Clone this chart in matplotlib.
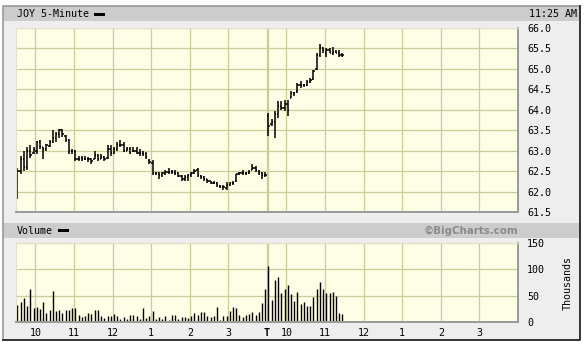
import matplotlib
matplotlib.use("Agg")
import matplotlib.pyplot as plt
from matplotlib.patches import Rectangle

# 5-minute bars, day 1 (full session, 78 bars) then day 2 (to 11:25, 24 bars)
day1_high = [62.58, 62.88, 63.00, 63.08, 63.13, 63.08, 63.23, 63.25, 63.10, 63.17,
             63.25, 63.50, 63.46, 63.54, 63.54, 63.38, 63.29, 63.04, 63.02, 62.88,
             62.88, 62.88, 62.85, 62.83, 63.00, 62.93, 62.92, 62.88, 63.13, 63.13,
             63.08, 63.21, 63.25, 63.21, 63.10, 63.08, 63.08, 63.10, 63.04, 63.00,
             62.96, 62.80, 62.76, 62.49, 62.48, 62.49, 62.52, 62.57, 62.52, 62.52,
             62.49, 62.40, 62.40, 62.44, 62.48, 62.56, 62.57, 62.40, 62.37, 62.31,
             62.27, 62.27, 62.23, 62.15, 62.15, 62.23, 62.23, 62.27, 62.44, 62.49,
             62.52, 62.49, 62.52, 62.68, 62.62, 62.52, 62.48, 62.49]
day1_low = [61.83, 62.42, 62.50, 62.52, 62.83, 62.92, 62.92, 63.04, 62.79, 63.00,
            63.08, 63.18, 63.21, 63.32, 63.33, 63.21, 62.92, 62.93, 62.75, 62.75,
            62.75, 62.77, 62.73, 62.67, 62.79, 62.75, 62.79, 62.75, 62.79, 62.88,
            62.92, 63.00, 63.08, 62.96, 63.00, 62.92, 62.96, 62.92, 62.88, 62.88,
            62.80, 62.68, 62.40, 62.40, 62.31, 62.35, 62.40, 62.44, 62.44, 62.40,
            62.35, 62.25, 62.27, 62.27, 62.35, 62.44, 62.35, 62.31, 62.25, 62.21,
            62.19, 62.19, 62.11, 62.09, 62.03, 62.03, 62.14, 62.15, 62.23, 62.40,
            62.40, 62.40, 62.44, 62.52, 62.48, 62.40, 62.31, 62.35]
day1_open = [62.55, 62.50, 62.80, 62.60, 63.00, 62.95, 63.00, 63.20, 63.10, 63.05,
             63.12, 63.22, 63.30, 63.40, 63.50, 63.35, 63.25, 63.00, 62.98, 62.80,
             62.82, 62.80, 62.80, 62.80, 62.80, 62.90, 62.80, 62.85, 62.82, 63.05,
             62.95, 63.05, 63.15, 63.15, 63.00, 63.05, 62.98, 63.00, 62.95, 62.95,
             62.92, 62.78, 62.70, 62.45, 62.45, 62.40, 62.45, 62.48, 62.48, 62.48,
             62.45, 62.38, 62.30, 62.35, 62.40, 62.45, 62.52, 62.38, 62.35, 62.30,
             62.25, 62.22, 62.20, 62.14, 62.12, 62.08, 62.16, 62.20, 62.25, 62.42,
             62.45, 62.45, 62.46, 62.52, 62.58, 62.50, 62.45, 62.40]
day1_close = [62.50, 62.80, 62.60, 63.00, 62.90, 63.05, 63.20, 63.10, 63.05, 63.15,
              63.20, 63.30, 63.40, 63.50, 63.40, 63.25, 63.00, 63.00, 62.80, 62.80,
              62.80, 62.80, 62.80, 62.75, 62.90, 62.80, 62.85, 62.80, 63.05, 62.95,
              63.05, 63.15, 63.15, 63.00, 63.05, 62.95, 63.00, 62.95, 62.95, 62.92,
              62.85, 62.72, 62.45, 62.45, 62.40, 62.45, 62.48, 62.48, 62.48, 62.45,
              62.38, 62.30, 62.35, 62.40, 62.45, 62.50, 62.40, 62.35, 62.30, 62.25,
              62.22, 62.22, 62.15, 62.12, 62.10, 62.15, 62.20, 62.22, 62.42, 62.45,
              62.45, 62.45, 62.48, 62.58, 62.52, 62.45, 62.40, 62.40]

day2_high = [63.93, 63.77, 63.97, 64.21, 64.21, 64.25, 64.25, 64.45, 64.44, 64.65,
             64.71, 64.63, 64.73, 64.77, 64.98, 65.38, 65.62, 65.54, 65.50, 65.50,
             65.54, 65.46, 65.46, 65.38]
day2_low = [63.36, 63.60, 63.32, 63.81, 64.00, 63.97, 63.85, 64.29, 64.33, 64.41,
            64.53, 64.55, 64.57, 64.65, 64.73, 64.98, 65.30, 65.38, 65.30, 65.38,
            65.34, 65.38, 65.30, 65.30]
day2_open = [63.85, 63.65, 63.70, 63.90, 64.10, 64.05, 64.15, 64.30, 64.40, 64.45,
             64.60, 64.60, 64.60, 64.68, 64.75, 65.00, 65.35, 65.50, 65.40, 65.45,
             65.40, 65.42, 65.40, 65.35]
day2_close = [63.60, 63.70, 63.90, 64.10, 64.05, 64.15, 64.00, 64.40, 64.40, 64.60,
              64.60, 64.60, 64.68, 64.72, 64.95, 65.35, 65.50, 65.45, 65.45, 65.40,
              65.42, 65.40, 65.35, 65.35]

# volume in thousands
day1_volume = [33, 38, 46, 31, 63, 26, 29, 24, 38, 17,
               22, 59, 21, 22, 17, 22, 22, 27, 27, 14,
               10, 12, 17, 15, 22, 22, 12, 8, 11, 12,
               15, 12, 6, 10, 5, 13, 13, 12, 6, 27,
               8, 12, 20, 6, 10, 5, 12, 3, 14, 14,
               5, 10, 10, 8, 12, 17, 14, 19, 19, 12,
               10, 12, 29, 3, 12, 12, 20, 29, 26, 14,
               10, 14, 16, 19, 14, 19, 36, 63]
day2_volume = [106, 42, 79, 85, 55, 63, 71, 53, 40, 57,
               35, 38, 31, 31, 48, 62, 76, 62, 55, 55,
               57, 49, 17, 16]

# hour marks, in 5-minute slots from the first open
hour_slots = [6, 18, 30, 42, 54, 66, 78, 84, 96, 108, 120, 132, 144]
hour_labels = ["10", "11", "12", "1", "2", "3", "T", "10", "11", "12", "1", "2", "3"]
price_ticks = [61.5, 62.0, 62.5, 63.0, 63.5, 64.0, 64.5, 65.0, 65.5, 66.0]
volume_ticks = [0, 50, 100, 150]

W, H = 588, 342
PANEL = "#eeeeee"
BAR = "#cccccc"
PLOT_BG = "#fefee6"
GRID = "#cccc99"
MONO = "DejaVu Sans Mono"

highs = day1_high + day2_high
lows = day1_low + day2_low
opens = day1_open + day2_open
closes = day1_close + day2_close
volume = day1_volume + day2_volume
xs = [i + 0.45 for i in range(len(highs))]

fig = plt.figure(figsize=(W / 100, H / 100), dpi=100)
fig.patch.set_facecolor("white")

# background frame drawn in pixel coordinates
bg = fig.add_axes([0, 0, 1, 1])
bg.set_xlim(0, W)
bg.set_ylim(H, 0)
bg.axis("off")
bg.add_patch(Rectangle((2.5, 5.5), 577.5, 334.5, facecolor=PANEL, edgecolor="none"))
bg.add_patch(Rectangle((3, 6), 577, 15, facecolor=BAR, edgecolor="none"))
bg.add_patch(Rectangle((3, 223), 577, 15, facecolor=BAR, edgecolor="none"))
bg.plot([2.5, 2.5, 580], [340, 5.5, 5.5], color="#999999", lw=1.2)
bg.plot([580, 580, 2.5], [5.5, 340, 340], color="#333333", lw=1.4)
bg.text(17, 14, "JOY 5-Minute", family=MONO, fontsize=7.2, va="center")
bg.add_patch(Rectangle((94, 12.5), 11, 3, facecolor="black"))
bg.text(577, 14, "11:25 AM", family=MONO, fontsize=7.2, va="center", ha="right")
bg.text(17, 230.5, "Volume", family=MONO, fontsize=7.2, va="center")
bg.add_patch(Rectangle((58, 229), 11, 3, facecolor="black"))
bg.text(518, 230.5, "\u00a9BigCharts.com", fontsize=7.4, fontweight="bold",
        color="#8a8a8a", va="center", ha="right")
bg.text(568, 283, "Thousands", family=MONO, fontsize=7.2, va="center",
        ha="center", rotation=90)


def style_axes(ax):
    ax.set_facecolor(PLOT_BG)
    ax.set_xlim(0, 156)
    ax.set_xticks(hour_slots)
    ax.grid(True, color=GRID, lw=0.9)
    ax.axvline(78.3, color=GRID, lw=0.9)
    ax.set_axisbelow(True)
    for side in ["top", "left"]:
        ax.spines[side].set_color("#e0e0cc")
    for side in ["bottom", "right"]:
        ax.spines[side].set_color("#999999")
        ax.spines[side].set_linewidth(1.4)
    ax.yaxis.tick_right()
    ax.tick_params(length=0, labelsize=7.2, labelfontfamily=MONO)
    ax.tick_params(axis="y", pad=6.5)


price_ax = fig.add_axes([16 / W, 1 - 212 / H, 502 / W, 184 / H])
style_axes(price_ax)
price_ax.set_ylim(61.5, 66.0)
price_ax.set_yticks(price_ticks)
price_ax.set_yticklabels([f"{t:.1f}" for t in price_ticks])
price_ax.set_xticklabels([])
price_ax.vlines(xs, lows, highs, color="black", lw=1.1)
price_ax.hlines(opens, [x - 0.4 for x in xs], xs, color="black", lw=1.1)
price_ax.hlines(closes, xs, [x + 0.4 for x in xs], color="black", lw=1.1)

vol_ax = fig.add_axes([16 / W, 1 - 322 / H, 502 / W, 79 / H])
style_axes(vol_ax)
vol_ax.set_ylim(0, 150)
vol_ax.set_yticks(volume_ticks)
vol_ax.set_xticklabels(hour_labels)
vol_ax.tick_params(axis="x", pad=4)
vol_ax.get_xticklabels()[6].set_fontweight("bold")
vol_ax.vlines(xs, 0, volume, color="black", lw=1.0)

fig.savefig("out.png", dpi=100, facecolor=fig.get_facecolor())
